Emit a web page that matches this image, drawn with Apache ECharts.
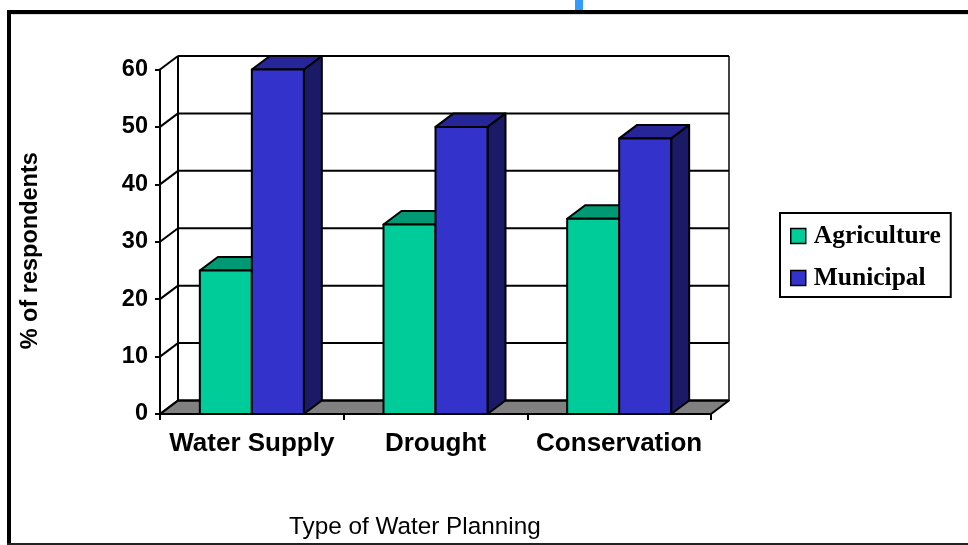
<!DOCTYPE html>
<html>
<head>
<meta charset="utf-8">
<style>html,body{margin:0;padding:0;background:#fff}#chart{width:968px;height:545px}</style>
<script src="https://cdn.jsdelivr.net/npm/echarts@6/dist/echarts.min.js"></script>
</head>
<body>
<div id="chart"></div>
<script>
const categories = ['Water Supply', 'Drought', 'Conservation'];
const agriculture = [25, 33, 34];
const municipal = [60, 50, 48];
const valueTicks = [0, 10, 20, 30, 40, 50, 60];

const depthX = 18;
const depthY = 13.5;
const barWidth = 52;
const ink = '#000';

// One face of a box, with its black outline.
function face(points, fill) {
  return {
    type: 'polygon',
    shape: { points: points },
    style: { fill: fill, stroke: ink, lineWidth: 2, lineJoin: 'round' }
  };
}

// Extruded bar: front, top and right side, placed beside its neighbour in the category.
function boxRenderer(dodge, front, top, side) {
  return function (params, api) {
    const base = api.coord([api.value(0), 0]);
    const head = api.coord([api.value(0), api.value(1)]);
    const x0 = base[0] + dodge * barWidth;
    const x1 = x0 + barWidth;
    const y0 = base[1];
    const y1 = head[1];
    return {
      type: 'group',
      children: [
        face([[x1, y0], [x1 + depthX, y0 - depthY], [x1 + depthX, y1 - depthY], [x1, y1]], side),
        face([[x0, y1], [x1, y1], [x1 + depthX, y1 - depthY], [x0 + depthX, y1 - depthY]], top),
        face([[x0, y0], [x1, y0], [x1, y1], [x0, y1]], front)
      ]
    };
  };
}

// Back wall, floor and the gridlines that wrap around the left wall.
function renderWalls(params, api) {
  const box = params.coordSys;
  const left = box.x;
  const right = box.x + box.width;
  const y = api.coord([0, api.value(1)])[1];
  const line = (x1, y1, x2, y2, stroke) => ({
    type: 'line',
    shape: { x1, y1, x2, y2 },
    style: { stroke: stroke || ink, lineWidth: 2 }
  });
  const children = [
    line(left, y, left + depthX, y - depthY),
    line(left + depthX, y - depthY, right + depthX, y - depthY)
  ];
  if (params.dataIndex === 0) {
    const top = box.y - depthY;
    children.unshift(
      face([[left, y], [right, y], [right + depthX, y - depthY], [left + depthX, y - depthY]], '#808080'),
      line(left + depthX, top, left + depthX, y - depthY),
      line(right + depthX, top, right + depthX, y - depthY, '#444')
    );
  }
  return { type: 'group', children: children };
}

const pairs = values => values.map((v, i) => [i, v]);

const chart = echarts.init(document.getElementById('chart'), null, { renderer: 'canvas' });
chart.setOption({
  animation: false,
  backgroundColor: '#fff',
  textStyle: { fontFamily: '"Liberation Sans", Arial, sans-serif' },
  title: {
    text: 'Type of Water Planning',
    left: 289,
    top: 515,
    padding: 0,
    textStyle: { fontFamily: '"Liberation Sans"', fontWeight: 'normal', fontSize: 24.3, color: ink }
  },
  grid: { left: 160, right: 257, top: 69.5, bottom: 131 },
  legend: {
    data: ['Agriculture', 'Municipal'],
    orient: 'vertical',
    left: 780,
    top: 213,
    padding: [10, 10, 6, 10],
    backgroundColor: '#fff',
    borderColor: ink,
    borderWidth: 2,
    borderRadius: 0,
    itemWidth: 15,
    itemHeight: 15,
    itemGap: 16,
    icon: 'rect',
    itemStyle: { borderColor: ink, borderWidth: 1.5 },
    textStyle: {
      fontFamily: '"Liberation Serif"',
      fontWeight: 'bold',
      fontSize: 25.5,
      color: ink,
      padding: [0, 0, 0, 3]
    }
  },
  xAxis: {
    type: 'category',
    data: categories,
    axisLine: { lineStyle: { color: ink, width: 2 } },
    axisTick: { show: true, alignWithLabel: false, length: 6, lineStyle: { color: ink, width: 2 } },
    axisLabel: { color: ink, fontWeight: 'bold', fontSize: 26, margin: 17, interval: 0 }
  },
  yAxis: {
    type: 'value',
    min: 0,
    max: 60,
    interval: 10,
    name: '% of respondents',
    nameLocation: 'middle',
    nameGap: 117,
    nameTextStyle: { color: ink, fontWeight: 'bold', fontSize: 23.5, padding: [0, 18, 0, 0] },
    axisLine: { show: true, lineStyle: { color: ink, width: 2 } },
    axisTick: { show: true, length: 5, lineStyle: { color: ink, width: 2 } },
    axisLabel: { color: ink, fontWeight: 'bold', fontSize: 23.5, margin: 12 },
    splitLine: { show: false }
  },
  series: [
    {
      type: 'custom',
      name: 'walls',
      z: 1,
      silent: true,
      renderItem: renderWalls,
      encode: { x: 0, y: 1 },
      data: valueTicks.map(v => [0, v])
    },
    {
      type: 'custom',
      name: 'Agriculture',
      z: 3,
      itemStyle: { color: '#00CC99' },
      renderItem: boxRenderer(-1, '#00CC99', '#009973', '#006650'),
      encode: { x: 0, y: 1 },
      data: pairs(agriculture)
    },
    {
      type: 'custom',
      name: 'Municipal',
      z: 4,
      itemStyle: { color: '#3333CC' },
      renderItem: boxRenderer(0, '#3333CC', '#262699', '#1A1A66'),
      encode: { x: 0, y: 1 },
      data: pairs(municipal)
    }
  ],
  // Slide frame and the sliver of blue above it.
  graphic: [
    { type: 'rect', z: 0, shape: { x: 575, y: 0, width: 8, height: 10 }, style: { fill: '#3399FF' } },
    { type: 'rect', z: 0, shape: { x: 7, y: 14, width: 961, height: 1 }, style: { fill: '#DDDDDD' } },
    { type: 'rect', z: 0, shape: { x: 7, y: 10, width: 961, height: 4 }, style: { fill: ink } },
    { type: 'rect', z: 0, shape: { x: 7, y: 10, width: 4, height: 535 }, style: { fill: ink } },
    { type: 'rect', z: 0, shape: { x: 7, y: 543, width: 961, height: 2 }, style: { fill: '#222' } }
  ]
});
</script>
</body>
</html>
